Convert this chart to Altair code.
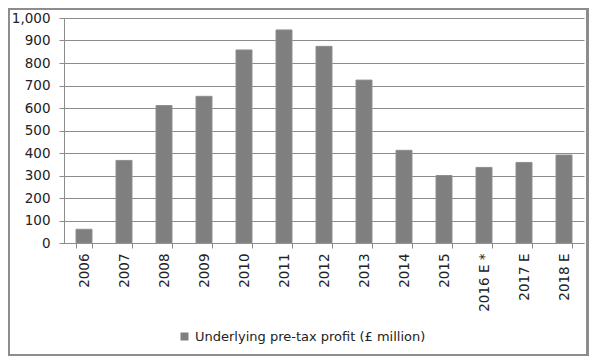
import altair as alt
import pandas as pd

years = ["2006", "2007", "2008", "2009", "2010", "2011", "2012", "2013",
         "2014", "2015", "2016 E *", "2017 E", "2018 E"]
profit = [61, 367, 611, 652, 858, 947, 874, 724, 412, 300, 336, 358, 391]
series_name = "Underlying pre-tax profit (£ million)"
y_ticks = [0, 100, 200, 300, 400, 500, 600, 700, 800, 900, 1000]

df = pd.DataFrame({"year": years, "profit": profit, "series": series_name})

FONT = "DejaVu Sans"
GRAY = "#8c8c8c"

bars = alt.Chart(df).mark_bar(stroke="#8f8f8f", strokeWidth=1, color="#7f7f7f").encode(
    x=alt.X("year:N", sort=years, title=None,
            scale=alt.Scale(paddingInner=0.6, paddingOuter=0.3),
            axis=alt.Axis(labelAngle=270, labelAlign="right", labelBaseline="middle",
                          labelPadding=5, tickSize=5, tickBand="extent",
                          domainColor=GRAY, tickColor=GRAY, labelColor="#222222",
                          labelFont=FONT, labelFontSize=13.5, grid=False)),
    y=alt.Y("profit:Q", title=None,
            scale=alt.Scale(domain=[0, 1000], nice=False),
            axis=alt.Axis(values=y_ticks, format=",d", tickSize=5, labelPadding=9,
                          domainColor=GRAY, tickColor=GRAY, gridColor=GRAY,
                          labelColor="#222222", labelFont=FONT, labelFontSize=13.5,
                          grid=True)),
    fill=alt.Fill("series:N", scale=alt.Scale(range=["#7f7f7f"]),
                  legend=alt.Legend(title=None, orient="none", legendX=114, legendY=312,
                                    symbolType="square", symbolSize=64,
                                    symbolStrokeWidth=0, labelOffset=4, padding=0,
                                    labelLimit=0,
                                    labelFont=FONT, labelFontSize=13,
                                    labelColor="#222222")),
)

frame = alt.Chart(df).mark_rect(fill=None, stroke=GRAY, strokeWidth=1.5).encode(
    x=alt.value(-55.5), x2=alt.value(523.5), y=alt.value(-9.5), y2=alt.value(337.5)
)

chart = alt.layer(bars, frame).properties(
    width=520, height=225,
    padding={"left": 56, "top": 10, "right": 12, "bottom": 113},
    autosize=alt.AutoSizeParams(type="none"),
).configure_view(stroke=None).configure_axis(domainWidth=1, gridWidth=1, tickWidth=1)

chart.save("out.html", embed_options={"renderer": "svg", "actions": False})
